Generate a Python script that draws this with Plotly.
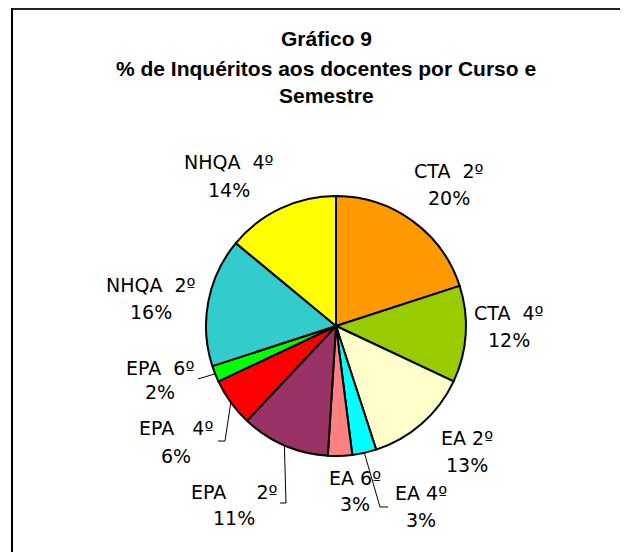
import math
import plotly.graph_objects as go

# ---- data ----
categories = ["CTA 2º", "CTA 4º", "EA 2º", "EA 4º", "EA 6º",
              "EPA 2º", "EPA 4º", "EPA 6º", "NHQA 2º", "NHQA 4º"]
percentages = [20, 12, 13, 3, 3, 11, 6, 2, 16, 14]
colors = ["#FF9900", "#99CC00", "#FFFFCC", "#00FFFF", "#FF8080",
          "#993366", "#FF0000", "#00FF00", "#33CCCC", "#FFFF00"]
display_names = ["CTA  2º", "CTA  4º", "EA 2º", "EA 4º", "EA 6º",
                 "EPA\u00a0\u00a0\u00a0\u00a0\u00a02º", "EPA\u00a0\u00a0\u00a04º",
                 "EPA  6º", "NHQA  2º", "NHQA  4º"]
title_lines = ["Gráfico 9", "% de Inquéritos aos docentes por Curso e", "Semestre"]

# ---- layout constants (pixels in the 628x552 page) ----
PAGE_W, PAGE_H = 628, 552
OFF = 8  # default page body margin
W, H = PAGE_W - OFF, PAGE_H - OFF
CX, CY, R = 336, 326, 130
# label centres: (x, y_name, y_pct)
label_pos = {
    "CTA 2º": (449, 171, 198),
    "CTA 4º": (509, 313, 340),
    "EA 2º": (467, 438, 465),
    "EA 4º": (421, 493, 520),
    "EA 6º": (355, 478, 504),
    "EPA 2º": (234, 492, 518),
    "EPA 4º": (176, 428, 456),
    "EPA 6º": (160, 368, 392),
    "NHQA 2º": (151, 285, 312),
    "NHQA 4º": (229, 162, 190),
}
# leader line ends (pixel polylines after slice edge)
leader_ends = {
    "EPA 6º": [(198, 379)],
    "EPA 4º": [(225, 441), (218, 441)],
    "EPA 2º": [(286, 503), (280, 503)],
    "EA 4º": [(380, 507), (388, 507)],
}


def px(x):
    return (x - OFF) / W


def py(y):
    return 1 - (y - OFF) / H


fig = go.Figure(go.Pie(
    labels=categories,
    values=percentages,
    sort=False,
    direction="clockwise",
    rotation=0,
    textinfo="none",
    hoverinfo="skip",
    marker=dict(colors=colors, line=dict(color="black", width=2)),
    domain=dict(x=[px(CX - R), px(CX + R)], y=[py(CY + R), py(CY - R)]),
    showlegend=False,
))

annotations = []
# title lines
for txt, y in zip(title_lines, [38, 68, 96]):
    annotations.append(dict(
        x=px(326), y=py(y), xref="paper", yref="paper", text="<b>%s</b>" % txt,
        showarrow=False, xanchor="center", yanchor="middle",
        font=dict(family="Liberation Sans, Arial, sans-serif", size=21, color="black")))

# slice labels
total = sum(percentages)
cum = 0
shapes = []
for cat, val, name in zip(categories, percentages, display_names):
    x, yn, yp = label_pos[cat]
    annotations.append(dict(
        x=px(x), y=py(yn), xref="paper", yref="paper", text=name, showarrow=False,
        xanchor="center", yanchor="middle",
        font=dict(family="DejaVu Sans, Verdana, sans-serif", size=19, color="black")))
    annotations.append(dict(
        x=px(x), y=py(yp), xref="paper", yref="paper", text="%d%%" % round(100 * val / total),
        showarrow=False, xanchor="center", yanchor="middle",
        font=dict(family="DejaVu Sans, Verdana, sans-serif", size=19, color="black")))
    mid = (cum + val / 2) / total * 2 * math.pi
    cum += val
    if cat in leader_ends:
        sx = CX + R * math.sin(mid)
        sy = CY - R * math.cos(mid)
        pts = [(sx, sy)] + leader_ends[cat]
        path = "M " + " L ".join("%f,%f" % (px(a), py(b)) for a, b in pts)
        shapes.append(dict(type="path", path=path, xref="paper", yref="paper",
                           line=dict(color="black", width=1)))

# frame
shapes.append(dict(type="line", xref="paper", yref="paper", x0=px(12), y0=py(9), x1=px(PAGE_W), y1=py(9),
                   line=dict(color="#222222", width=2)))
shapes.append(dict(type="line", xref="paper", yref="paper", x0=px(12), y0=py(8), x1=px(12), y1=py(PAGE_H),
                   line=dict(color="black", width=2)))

fig.update_layout(
    width=W, height=H,
    margin=dict(l=0, r=0, t=0, b=0),
    paper_bgcolor="white", plot_bgcolor="white",
    annotations=annotations, shapes=shapes,
)

fig.write_html("out.html")
